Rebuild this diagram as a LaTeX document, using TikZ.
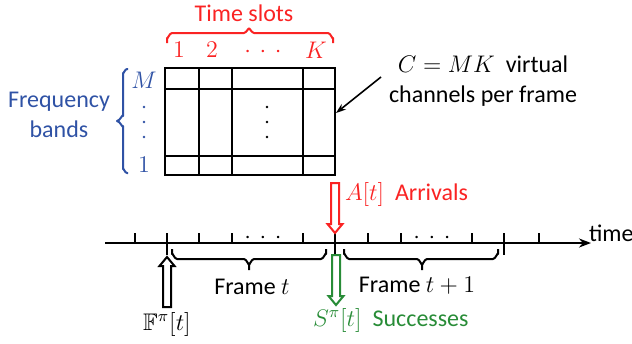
\documentclass[tikz,border=0pt]{standalone}
\usepackage{fontspec}
\setmainfont{Carlito}
\usepackage{amssymb}
\usetikzlibrary{arrows.meta}
\definecolor{tred}{RGB}{250,35,35}
\definecolor{tblue}{RGB}{47,82,165}
\definecolor{tgreen}{RGB}{40,140,55}
\newcommand{\wdots}{{\cdot}\mkern6.5mu{\cdot}\mkern6.5mu{\cdot}}
\begin{document}
\begin{tikzpicture}[x=0.5pt,y=-0.5pt,line width=1pt,
  font=\fontsize{12}{14}\selectfont,
  lbl/.style={inner sep=0pt},
  tick/.style={line width=0.9pt},
  bracket/.style={line width=1pt,line join=round},
  hollowarrow/.pic={\draw[line width=1pt,fill=white] (-4,0) -- (-4,41) -- (-7.5,41) -- (0,50) -- (7.5,41) -- (4,41) -- (4,0) -- cycle;}]
\useasboundingbox (0,0) rectangle (632,343);

% ---------- grid ----------
\draw (165,68) rectangle (335,175);
\foreach \gx in {199,232,303} \draw (\gx,68) -- (\gx,175);
\foreach \gy in {89,156} \draw (165,\gy) -- (335,\gy);
\foreach \dy in {107,122,137} \fill (267,\dy) circle (1.3);
\coordinate (gridedge) at (336,113);

% ---------- time slots ----------
\node[lbl,text=tred] (ts) at (244,13) {Time slots};
\draw[bracket,tred] (167,43) -- (167,38) to[out=-90,in=180] (172,33) -- (244,33) to[out=0,in=90] (249,29)
                    to[out=90,in=180] (254,33) -- (328,33) to[out=0,in=-90] (333,38) -- (333,43);
\node[lbl,text=tred,font=\fontsize{13}{15}\selectfont] (k1) at (179,50) {$1$};
\node[lbl,text=tred,font=\fontsize{13}{15}\selectfont] (k2) at (212,50) {$2$};
\node[lbl,text=tred] (kd) at (263,52) {$\wdots$};
\node[lbl,text=tred,font=\fontsize{13}{15}\selectfont] (kK) at (316,50) {$K$};

% ---------- frequency bands ----------
\node[lbl,text=tblue,align=center,font=\fontsize{12}{15}\selectfont] (fb) at (59,115) {Frequency\\bands};
\draw[bracket,tblue] (128,69) -- (127,69) to[out=180,in=-90] (123,73) -- (123,116) to[out=90,in=0] (117,121)
                     to[out=0,in=-90] (123,126) -- (123,169) to[out=90,in=180] (127,173) -- (128,173);
\node[lbl,text=tblue,font=\fontsize{13}{15}\selectfont] (mM) at (144,80) {$M$};
\foreach \dy in {107,122,137} \fill[tblue] (144,\dy) circle (1.3);
\node[lbl,text=tblue,font=\fontsize{13}{15}\selectfont] (m1) at (144,165) {$1$};

% ---------- annotation ----------
\node[lbl,align=center] (ann) at (483,81) {$C=MK$\ \ virtual\\[1pt]channels per frame};
\coordinate (annstart) at (381,77);
\draw[line width=0.8pt,-{Stealth[length=5pt,width=3.5pt]}] (annstart) -- (gridedge);

% ---------- time line ----------
\coordinate (tl0) at (105,243);
\coordinate (tl1) at (591,243);
\draw[-{Stealth[length=6pt,width=4.5pt]}] (tl0) -- (tl1);
\node[lbl,anchor=west] (time) at (588,233) {time};
\foreach \tx in {135,199,232,303,368,401,472,539} \draw[tick] (\tx,233) -- (\tx,243);
\draw[tick] (167,233) -- (167,255);
\draw[tick] (335,233) -- (335,257);
\draw[tick] (504,233) -- (504,255);
\node[lbl] (d1) at (263,238) {$\wdots$};
\node[lbl] (d2) at (432,238) {$\wdots$};

% ---------- frame braces ----------
\draw[bracket] (172,249) -- (172,254) to[out=90,in=180] (177,259) -- (244,259) to[out=0,in=-90] (249,264) -- (249,270);
\draw[bracket] (326,249) -- (326,254) to[out=90,in=0] (321,259) -- (254,259) to[out=180,in=-90] (249,264);
\draw[bracket] (344,249) -- (344,254) to[out=90,in=180] (349,259) -- (417,259) to[out=0,in=-90] (422,264) -- (422,270);
\draw[bracket] (498,249) -- (498,254) to[out=90,in=0] (493,259) -- (427,259) to[out=180,in=-90] (422,264);
\node[lbl] (f1) at (252,287) {Frame $t$};
\node[lbl] (f2) at (417,286) {Frame $t+1$};

% ---------- arrows ----------
\pic[black,rotate=180] at (167,307) {hollowarrow};
\pic[tred,draw=tred] at (335,183) {hollowarrow};
\pic[tgreen,draw=tgreen] at (336,255) {hollowarrow};

\node[lbl] (Fpi) at (167,324) {$\mathbb{F}^{\pi}[t]$};
\node[lbl,anchor=west,text=tred] (arr) at (344,194) {$A[t]$\ \ Arrivals};
\node[lbl,anchor=west,text=tgreen] (succ) at (312,320) {$S^{\pi}[t]$\ \ Successes};
\end{tikzpicture}
\end{document}
